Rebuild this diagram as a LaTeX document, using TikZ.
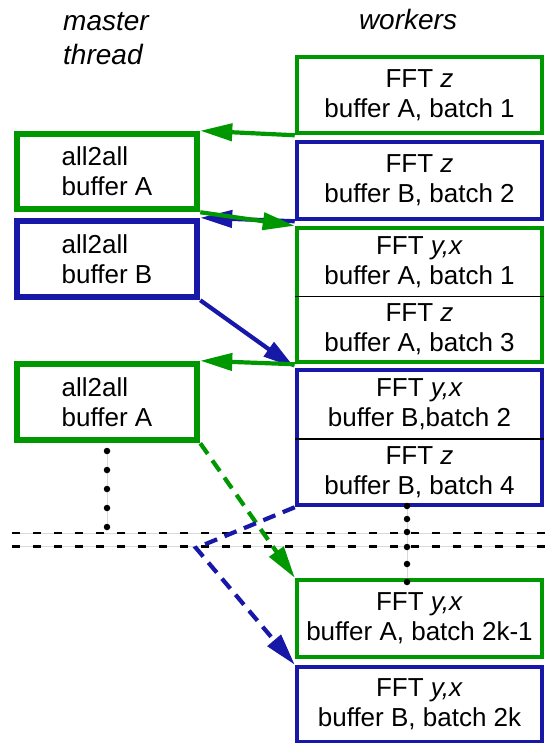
\documentclass[tikz,border=0pt]{standalone}
\usepackage{fontspec}
\setmainfont{Liberation Sans}
\usetikzlibrary{arrows.meta}
\definecolor{gr}{RGB}{0,152,0}
\definecolor{bl}{RGB}{24,24,168}
\begin{document}
\begin{tikzpicture}[x=1pt,y=-1pt,
  txt/.style={font=\fontsize{26}{30}\selectfont},
  hdr/.style={font=\fontsize{28}{34}\selectfont\itshape, inner sep=0pt},
  rbox/.style={draw=#1, line width=4.5pt, minimum width=245pt, inner sep=0pt, align=center, txt},
  lbox/.style={draw=#1, line width=6.5pt, minimum width=180pt, minimum height=75pt, inner sep=0pt, align=left, txt},
  ttext/.style={inner sep=0pt, align=center, txt},
  arr/.style={draw=#1, line width=4.2pt, -{Triangle[length=32pt,width=17pt]}},
  dsh/.style={dash pattern=on 13pt off 8pt},
  dotc/.style={fill=black, draw=none, circle, minimum size=6.5pt, inner sep=0pt},
]
\useasboundingbox (0,0) rectangle (545,743);
\fill[white] (0,0) rectangle (545,743);

% headers
\node[hdr, anchor=base west] (hm) at (63,31) {master};
\node[hdr, anchor=base west] (ht) at (63,65) {thread};
\node[hdr, anchor=base] (hw) at (408,30) {workers};

% worker boxes
\node[rbox=gr, minimum height=76pt] (b1) at (419.5,95) {FFT \textit{z}\\buffer A, batch 1};
\node[rbox=bl, minimum height=77pt] (b2) at (419.5,180.5) {FFT \textit{z}\\buffer B, batch 2};
\node[rbox=gr, minimum height=134pt] (b3) at (419.5,295) {};
\node[ttext] (b3a) at (419.5,262) {FFT \textit{y,x}\\buffer A, batch 1};
\node[ttext] (b3b) at (419.5,329) {FFT \textit{z}\\buffer A, batch 3};
\draw[black, line width=1.4pt] (b3.west |- 0,296.5) -- (b3.east |- 0,296.5);
\node[rbox=bl, minimum height=135pt] (b4) at (419.5,437.5) {};
\node[ttext] (b4a) at (419.5,404.5) {FFT \textit{y,x}\\buffer B,batch 2};
\node[ttext] (b4b) at (419.5,472) {FFT \textit{z}\\buffer B, batch 4};
\draw[black, line width=1.4pt] (b4.west |- 0,439) -- (b4.east |- 0,439);
\node[rbox=gr, minimum height=77pt] (b5) at (419.5,618.5) {FFT \textit{y,x}\\buffer A, batch 2k-1};
\node[rbox=bl, minimum height=75pt] (b6) at (419.5,704.5) {FFT \textit{y,x}\\buffer B, batch 2k};

% master boxes
\node[lbox=gr] (a1) at (107,171.5) {all2all\\buffer A};
\node[lbox=bl, minimum height=76pt] (bb) at (107,259) {all2all\\buffer B};
\node[lbox=gr, minimum height=76pt] (a2) at (107,402) {all2all\\buffer A};

% horizontal dashed separators
\coordinate (h1l) at (12,533);
\coordinate (h1r) at (545,533);
\coordinate (h2l) at (12,546.5);
\coordinate (h2r) at (545,546.5);
\draw[gray!30, line width=0.8pt] (h1l) -- (h1r);
\draw[gray!30, line width=0.8pt] (h2l) -- (h2r);
\draw[black, line width=2.2pt, dash pattern=on 8pt off 13pt] (h1l) -- (h1r);
\draw[black, line width=2.2pt, dash pattern=on 8pt off 13pt] (h2l) -- (h2r);

% vertical dotted lines
\coordinate (ld1) at (107,451);
\coordinate (ld5) at (107,527);
\draw[gray!30, line width=0.8pt] (ld1) -- (ld5);
\foreach \y in {451,470,489,508,527} \node[dotc] at (107,\y) {};
\draw[gray!30, line width=0.8pt] (b4.south -| 407,0) -- (b5.north -| 407,0);
\foreach \y in {506,519,532,547,564,582} \node[dotc] at (407,\y) {};

% connectors
\draw[arr=gr] (b1.south west) -- (a1.north east);
\draw[arr=bl] (b2.south west) -- (bb.north east);
\draw[arr=gr] (a1.south east) -- (b3.north west);
\draw[arr=bl] (bb.south east) -- (b4.north west);
\draw[arr=gr] (b3.south west) -- (a2.north east);
\draw[arr=gr, dsh] (a2.south east) -- (b5.north west);
\coordinate (bend) at (196,548);
\draw[arr=bl, dsh] (b4.south west) -- (bend) -- (b6.north west);
\end{tikzpicture}
\end{document}
